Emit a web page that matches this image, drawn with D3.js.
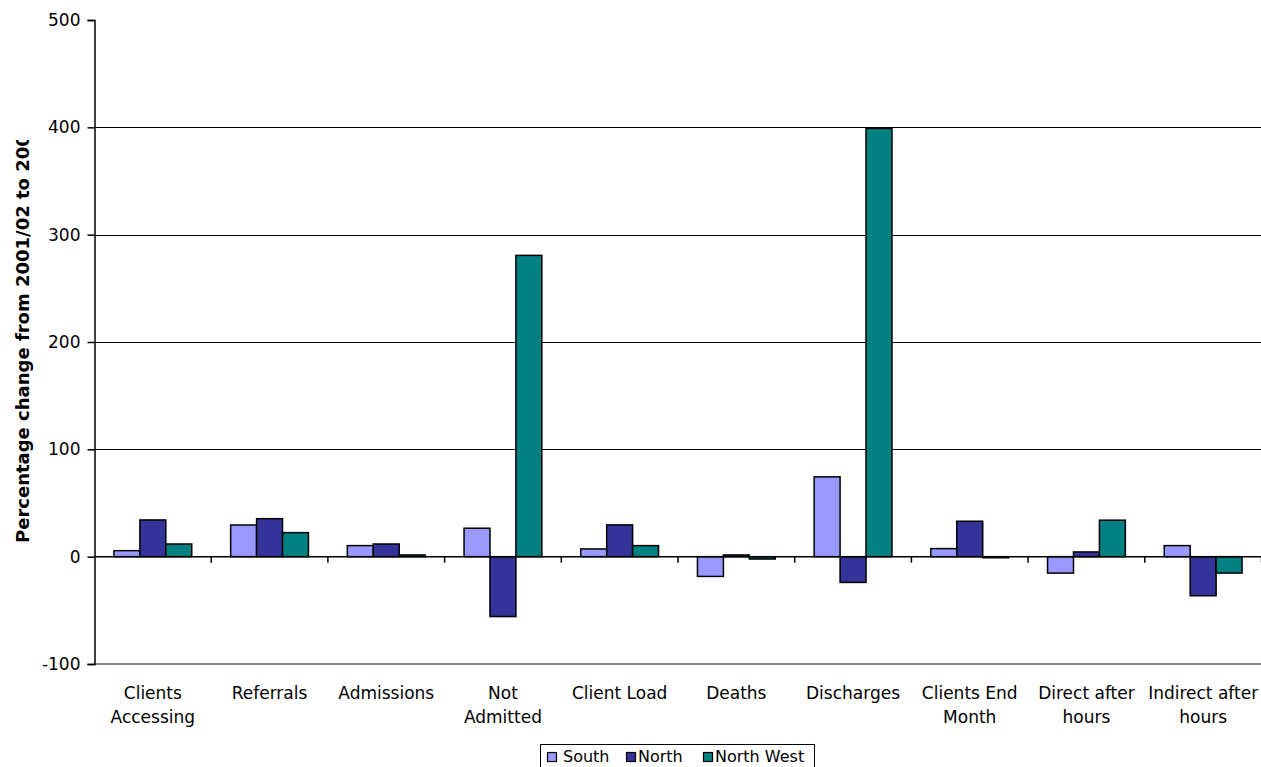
<!DOCTYPE html>
<html>
<head>
<meta charset="utf-8">
<script src="https://cdn.jsdelivr.net/npm/d3@7/dist/d3.min.js"></script>
<style>
  html, body { margin: 0; padding: 0; background: #fff; }
  svg { display: block; font-family: "DejaVu Sans", Verdana, sans-serif; }
</style>
</head>
<body>
<svg id="chart" width="1261" height="767"></svg>
<script>
// Categories (two-line labels) and series values, percent change
const categories = [
  ["Clients", "Accessing"], ["Referrals"], ["Admissions"], ["Not", "Admitted"],
  ["Client Load"], ["Deaths"], ["Discharges"], ["Clients End", "Month"],
  ["Direct after", "hours"], ["Indirect after", "hours"]
];
const seriesNames = ["South", "North", "North West"];
const south     = [5.6, 29.5, 10.3, 26.5, 7.2, -18.4, 74.4, 7.5, -15.3, 10.3];
const north     = [34.2, 35.4, 11.8, -55.8, 29.6, 1.6, -24, 33, 4.4, -36.4];
const northWest = [11.8, 22.4, 1.6, 280.7, 10.3, -2.2, 399, -1, 34, -15.3];
const yTicks = [-100, 0, 100, 200, 300, 400, 500];
const colors = ["#9999FF", "#333399", "#008080"];

(function () {
const svg = d3.select("#chart");
const plotLeft = 94.5, plotRight = 1261.5, plotTop = 20, plotBottom = 664;
const catKeys = categories.map(c => c.join(" "));
const values = [south, north, northWest];

const x0 = d3.scaleBand().domain(catKeys).range([plotLeft, plotRight]).paddingInner(0).paddingOuter(0);
const x1 = d3.scaleBand().domain(seriesNames).range([0, x0.bandwidth()]).paddingInner(0).paddingOuter(0.75);
const y = d3.scaleLinear().domain([-100, 500]).range([plotBottom, plotTop]);

// Horizontal gridlines
svg.append("g").selectAll("line")
  .data([100, 200, 300, 400])
  .join("line")
  .attr("x1", plotLeft).attr("x2", plotRight)
  .attr("y1", d => Math.round(y(d)) + 0.5).attr("y2", d => Math.round(y(d)) + 0.5)
  .attr("stroke", "#000").attr("stroke-width", 1);

// Bottom edge of the plot area
svg.append("line")
  .attr("x1", plotLeft).attr("x2", plotRight)
  .attr("y1", y(-100)).attr("y2", y(-100))
  .attr("stroke", "#888").attr("stroke-width", 2);

// Bars
const rows = catKeys.map((k, i) => ({ key: k, vals: seriesNames.map((s, j) => ({ s, j, v: values[j][i] })) }));
svg.append("g").selectAll("g")
  .data(rows)
  .join("g")
  .attr("transform", d => `translate(${x0(d.key)},0)`)
  .selectAll("rect")
  .data(d => d.vals)
  .join("rect")
  .attr("x", d => x1(d.s))
  .attr("width", x1.bandwidth())
  .attr("y", d => y(Math.max(0, d.v)))
  .attr("height", d => Math.max(1, Math.abs(y(d.v) - y(0))))
  .attr("fill", d => colors[d.j])
  .attr("stroke", "#000")
  .attr("stroke-width", 1.5);

// Category axis at zero with tick marks between groups
const y0 = y(0);
svg.append("line")
  .attr("x1", plotLeft).attr("x2", plotRight)
  .attr("y1", y0).attr("y2", y0)
  .attr("stroke", "#000").attr("stroke-width", 1.5);
const bounds = catKeys.map(k => x0(k)).concat([plotRight]);
svg.append("g").selectAll("line")
  .data(bounds.slice(1))
  .join("line")
  .attr("x1", d => d).attr("x2", d => d)
  .attr("y1", y0).attr("y2", y0 + 6)
  .attr("stroke", "#000").attr("stroke-width", 1.5);

// Value axis
const yAxis = d3.axisLeft(y).tickValues(yTicks).tickSize(7).tickPadding(7).tickFormat(d => String(d));
const ga = svg.append("g").attr("transform", `translate(${plotLeft},0)`).call(yAxis);
ga.select(".domain").attr("stroke", "#000").attr("stroke-width", 1.5);
ga.selectAll(".tick line").attr("stroke", "#000").attr("stroke-width", 1.5);
ga.selectAll(".tick text").attr("font-size", 17).attr("fill", "#000")
  .attr("font-family", "DejaVu Sans, Verdana, sans-serif");

// Category labels
const lab = svg.append("g").selectAll("text")
  .data(categories)
  .join("text")
  .attr("text-anchor", "middle")
  .attr("font-size", 17)
  .attr("fill", "#000");
lab.each(function(d, i) {
  const cx = x0(catKeys[i]) + x0.bandwidth() / 2;
  d3.select(this).selectAll("tspan").data(d).join("tspan")
    .attr("x", cx)
    .attr("y", (t, k) => 699 + k * 24)
    .text(t => t);
});

// Value axis title, clipped at the top
svg.append("clipPath").attr("id", "titleClip")
  .append("rect").attr("x", 0).attr("y", 140).attr("width", 60).attr("height", 500);
svg.append("g").attr("clip-path", "url(#titleClip)")
  .append("text")
  .attr("transform", "translate(29,543) rotate(-90)")
  .attr("font-size", 18)
  .attr("font-weight", "bold")
  .attr("fill", "#000")
  .text("Percentage change from 2001/02 to 2003/04");

// Legend
const lg = svg.append("g");
lg.append("rect")
  .attr("x", 540.5).attr("y", 744.5).attr("width", 274).attr("height", 40)
  .attr("fill", "#fff").attr("stroke", "#000").attr("stroke-width", 1);
const legendX = [547, 626, 703];
const legendTextX = [563, 638, 715];
seriesNames.forEach((s, i) => {
  lg.append("rect")
    .attr("x", legendX[i] + 0.5).attr("y", 752.5).attr("width", 9).attr("height", 9)
    .attr("fill", colors[i]).attr("stroke", "#000").attr("stroke-width", 1.2);
  lg.append("text")
    .attr("x", legendTextX[i]).attr("y", 762)
    .attr("font-size", 16).attr("fill", "#000")
    .text(s);
});
})();
</script>
</body>
</html>
